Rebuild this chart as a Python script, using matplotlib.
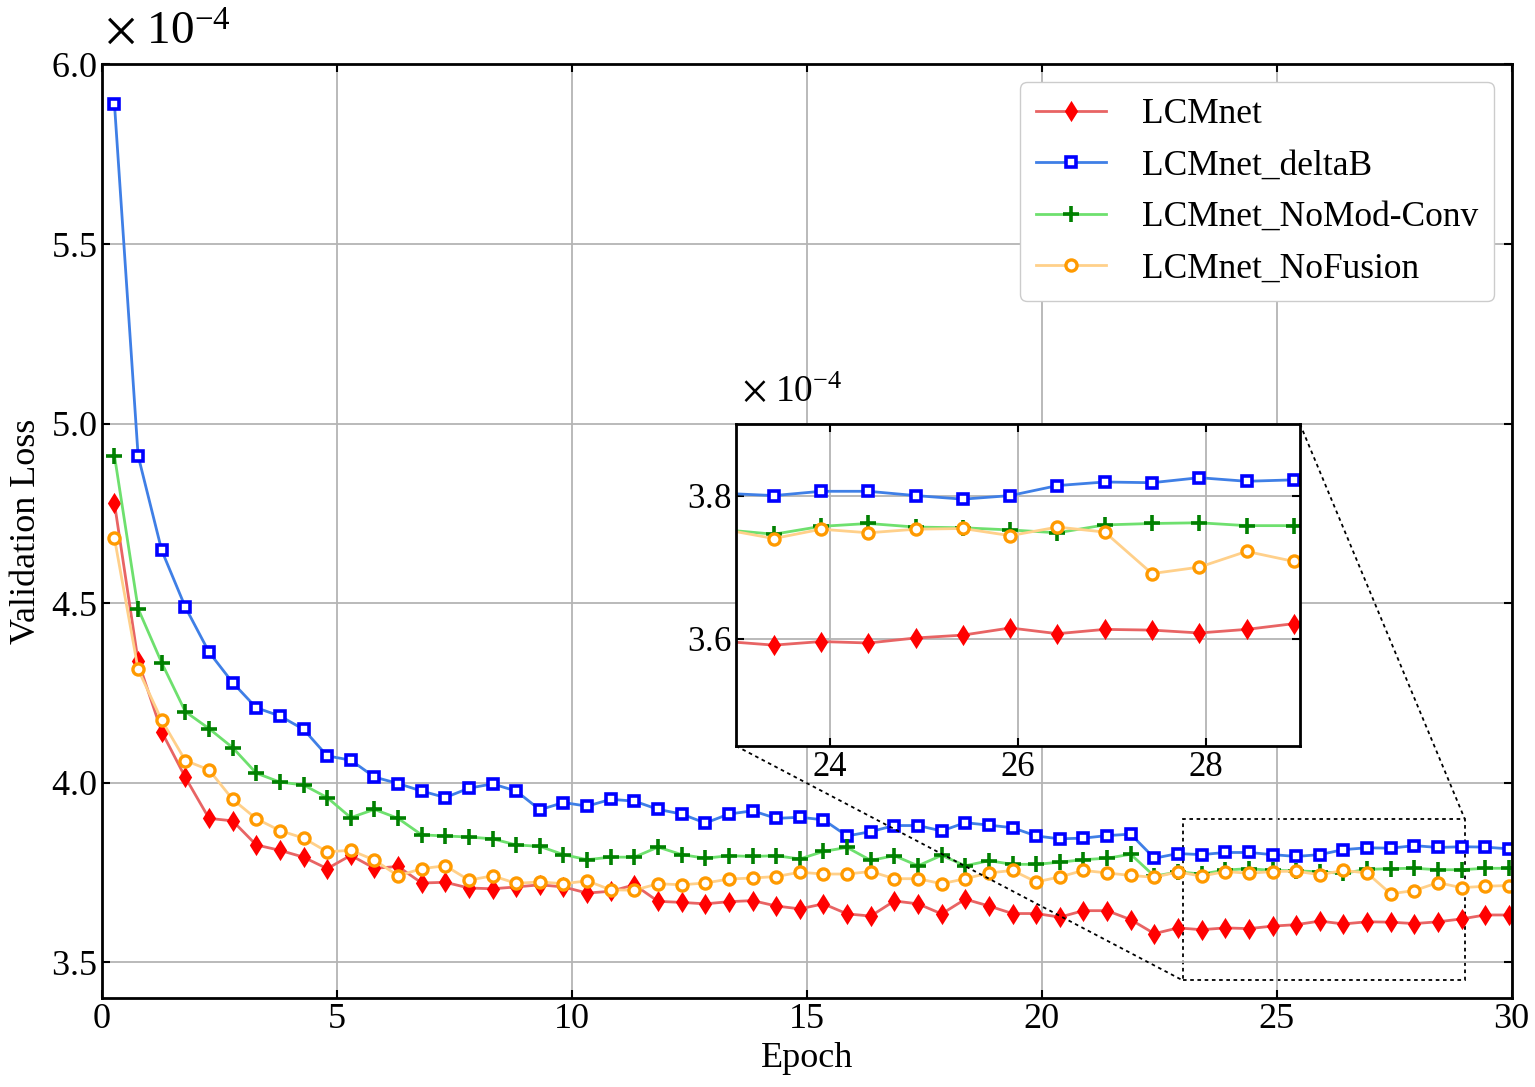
import numpy as np
import matplotlib
matplotlib.use("Agg")
import matplotlib.pyplot as plt
from mpl_toolkits.axes_grid1.inset_locator import mark_inset

plt.rcParams['font.family'] = ['Liberation Serif', 'DejaVu Serif']
plt.rcParams['mathtext.fontset'] = 'stix'

# validation loss, in units of 1e-4, 60 checkpoints over 30 epochs
epochs = np.linspace(0.27, 29.94, 60)

lcmnet = [4.778, 4.339, 4.142, 4.015, 3.901, 3.894, 3.827, 3.812, 3.793, 3.761,
          3.798, 3.762, 3.767, 3.721, 3.723, 3.707, 3.705, 3.710, 3.716, 3.710,
          3.693, 3.698, 3.716, 3.670, 3.667, 3.663, 3.669, 3.672, 3.657, 3.649,
          3.663, 3.635, 3.629, 3.671, 3.663, 3.635, 3.676, 3.657, 3.636, 3.636,
          3.626, 3.644, 3.644, 3.619, 3.580, 3.596, 3.591, 3.596, 3.594, 3.601,
          3.605, 3.615, 3.607, 3.613, 3.612, 3.608, 3.613, 3.621, 3.632, 3.632]

deltab = [5.890, 4.911, 4.647, 4.489, 4.364, 4.279, 4.209, 4.186, 4.149, 4.075,
          4.063, 4.016, 3.998, 3.977, 3.959, 3.985, 3.997, 3.977, 3.925, 3.945,
          3.935, 3.954, 3.949, 3.926, 3.913, 3.888, 3.913, 3.922, 3.901, 3.904,
          3.897, 3.852, 3.864, 3.881, 3.881, 3.866, 3.889, 3.882, 3.875, 3.852,
          3.844, 3.846, 3.853, 3.857, 3.790, 3.803, 3.800, 3.806, 3.806, 3.800,
          3.795, 3.800, 3.814, 3.819, 3.818, 3.825, 3.820, 3.822, 3.821, 3.816]

nomod = [4.911, 4.485, 4.334, 4.198, 4.151, 4.098, 4.027, 4.002, 3.994, 3.959,
         3.903, 3.926, 3.901, 3.855, 3.852, 3.849, 3.844, 3.827, 3.823, 3.800,
         3.786, 3.793, 3.793, 3.821, 3.800, 3.790, 3.797, 3.795, 3.797, 3.788,
         3.809, 3.820, 3.784, 3.797, 3.769, 3.798, 3.769, 3.783, 3.773, 3.773,
         3.779, 3.786, 3.790, 3.801, 3.740, 3.752, 3.746, 3.757, 3.761, 3.756,
         3.755, 3.752, 3.748, 3.759, 3.761, 3.762, 3.758, 3.758, 3.762, 3.762]

nofusion = [4.681, 4.316, 4.174, 4.062, 4.036, 3.954, 3.900, 3.867, 3.846, 3.808,
            3.812, 3.785, 3.741, 3.761, 3.769, 3.729, 3.741, 3.720, 3.724, 3.719,
            3.727, 3.702, 3.701, 3.719, 3.716, 3.721, 3.732, 3.735, 3.739, 3.751,
            3.746, 3.746, 3.753, 3.733, 3.733, 3.719, 3.733, 3.749, 3.756, 3.724,
            3.738, 3.756, 3.749, 3.742, 3.737, 3.752, 3.740, 3.753, 3.748, 3.753,
            3.754, 3.744, 3.756, 3.749, 3.691, 3.700, 3.722, 3.708, 3.712, 3.714]

names = ['LCMnet', 'LCMnet_deltaB', 'LCMnet_NoMod-Conv', 'LCMnet_NoFusion']
series = [lcmnet, deltab, nomod, nofusion]
styles = [
    dict(color='#e86464', marker='d', mec='red', mfc='red', ms=8, mew=2.0),
    dict(color='#3f7fe6', marker='s', mec='blue', mfc='white', ms=6.5, mew=2.6),
    dict(color='#6ee06e', marker='+', mec='green', ms=12, mew=2.6),
    dict(color='#ffd08a', marker='o', mec='#ff9a00', mfc='white', ms=8, mew=2.4),
]


def draw(ax, tick_size):
    for vals, name, st in zip(series, names, styles):
        ax.plot(epochs, np.array(vals) * 1e-4, lw=2, label=name, **st)
    ax.grid(True, color='#b4b4b4', lw=1.3)
    ax.tick_params(direction='in', top=True, right=True, labelsize=tick_size,
                   width=1.5, length=6)
    ax.ticklabel_format(axis='y', style='sci', scilimits=(-4, -4),
                        useMathText=True)
    ax.yaxis.get_offset_text().set_visible(False)
    for s in ax.spines.values():
        s.set_linewidth(2)


fig = plt.figure(figsize=(15.35, 10.87), dpi=100)
ax = fig.add_axes([0.0663, 0.0816, 0.9185, 0.8591])
draw(ax, 26)
ax.set_xlim(0, 30)
ax.set_ylim(3.4e-4, 6.0e-4)
ax.set_xticks([0, 5, 10, 15, 20, 25, 30])
ax.set_yticks(np.arange(3.5, 6.01, 0.5) * 1e-4)
ax.set_xlabel('Epoch', fontsize=26, labelpad=4)
ax.set_ylabel('Validation Loss', fontsize=26, labelpad=6)
ax.text(0.002, 1.012, r'$\times\ \mathdefault{10^{-4}}$', transform=ax.transAxes,
        fontsize=34, ha='left', va='bottom')
ax.legend(loc='upper right', fontsize=25.5, handlelength=2.0,
          borderaxespad=0.5, fancybox=True, edgecolor='#cccccc',
          framealpha=1, labelspacing=0.52, borderpad=0.45, handletextpad=1.0)

axin = fig.add_axes([0.4795, 0.3137, 0.3674, 0.2962])
draw(axin, 25)
axin.set_xlim(23, 29)
axin.set_ylim(3.45e-4, 3.9e-4)
axin.set_xticks([24, 26, 28])
axin.set_yticks([3.6e-4, 3.8e-4])
axin.text(0.01, 1.045, r'$\times\ \mathdefault{10^{-4}}$', transform=axin.transAxes,
          fontsize=27, ha='left', va='bottom')

mark_inset(ax, axin, loc1=1, loc2=3, fc='none', ec='black',
           ls=(0, (2, 2)), lw=1.3)

fig.savefig('out.png', dpi=100)
